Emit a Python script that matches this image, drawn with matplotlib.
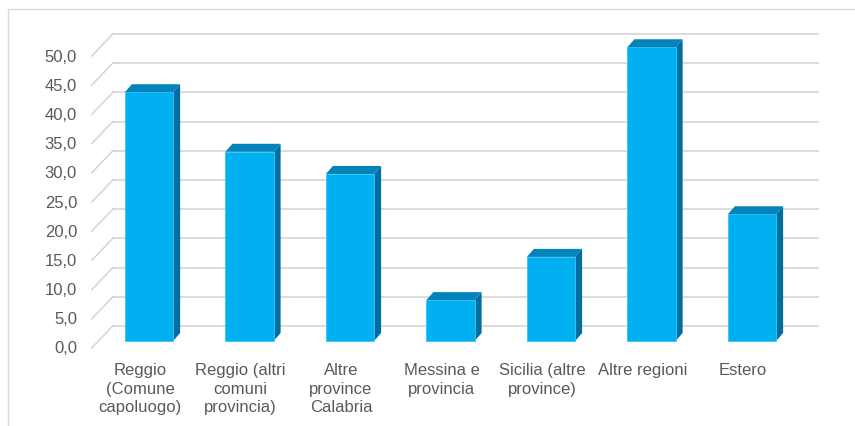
import numpy as np
import matplotlib
matplotlib.use("Agg")
import matplotlib.pyplot as plt
from matplotlib.patches import Polygon, Rectangle

# dati
categorie = ["Reggio\n(Comune\ncapoluogo)", "Reggio (altri\ncomuni\nprovincia)",
             "Altre\nprovince\nCalabria", "Messina e\nprovincia",
             "Sicilia (altre\nprovince)", "Altre regioni", "Estero"]
valori = [42.6, 32.4, 28.6, 7.0, 14.4, 50.3, 21.7]
tick_valori = np.arange(0, 55, 5)

plt.rcParams['font.family'] = ['Liberation Sans', 'DejaVu Sans']
W, H = 855, 427
fig = plt.figure(figsize=(W / 100, H / 100), dpi=100)

# cornice esterna
fig.patches.append(Rectangle((7.5 / W, -0.2), 1.2, (H - 10) / H + 0.2,
                             transform=fig.transFigure, fill=False,
                             edgecolor='#d9d9d9', lw=1))

# piano delle barre (pixel)
x0_px, y0_px = 98.75, 342
px_cat, px_val = 100.5, 5.84
ax = fig.add_axes([x0_px / W, (H - y0_px) / H, 7 * px_cat / W, 50 * px_val / H])
ax.set_xlim(-0.5, 6.5)
ax.set_ylim(0, 50)
ax.axis('off')

def px2dx(p):
    return p / px_cat

def px2dy(p):
    return p / px_val

# offset dei piani (pixel -> dati)
back_dx, back_dy = px2dx(14), px2dy(15)
front_dx, front_dy = px2dx(-7), px2dy(-7)
bar_dx, bar_dy = px2dx(7), px2dy(8)

# griglia sul fondo e linee diagonali laterali
x_fine = -0.5 + px2dx(818 - x0_px)
for v in tick_valori:
    ax.plot([-0.5 + back_dx, x_fine], [v + back_dy, v + back_dy],
            color='#d9d9d9', lw=1.3, clip_on=False, zorder=1)
    ax.plot([-0.5 + front_dx, -0.5 + back_dx], [v + front_dy, v + back_dy],
            color='#d0d0d0', lw=1, clip_on=False, zorder=1)
    ax.text(-0.5 + px2dx(77 - x0_px), v + front_dy, f"{v:.1f}".replace('.', ','),
            ha='right', va='center', fontsize=12, color='#595959')

# barre 3D
larg = 0.48
x = np.arange(len(valori))
barre = ax.bar(x, valori, width=larg, color='#00B0F0', edgecolor='#3cc4f5', lw=0.6, zorder=3)
for b in barre:
    b.set_clip_on(False)
for xi, v in zip(x, valori):
    dx = xi + larg / 2
    sx = xi - larg / 2
    lato = Polygon([(dx, 0), (dx + bar_dx, bar_dy), (dx + bar_dx, v + bar_dy), (dx, v)],
                   closed=True, facecolor='#006f9f', edgecolor='none', zorder=2,
                   clip_on=False)
    cima = Polygon([(sx, v), (sx + bar_dx, v + bar_dy), (dx + bar_dx, v + bar_dy), (dx, v)],
                   closed=True, facecolor='#0383bb', edgecolor='none', zorder=4,
                   clip_on=False)
    ax.add_patch(lato)
    ax.add_patch(cima)

# etichette categorie
for xi, lab in zip(x, categorie):
    ax.text(xi + front_dx - px2dx(2), -px2dy(21), lab, ha='center', va='top',
            fontsize=12, color='#595959', linespacing=1.3)

fig.savefig("out.png", dpi=100)
